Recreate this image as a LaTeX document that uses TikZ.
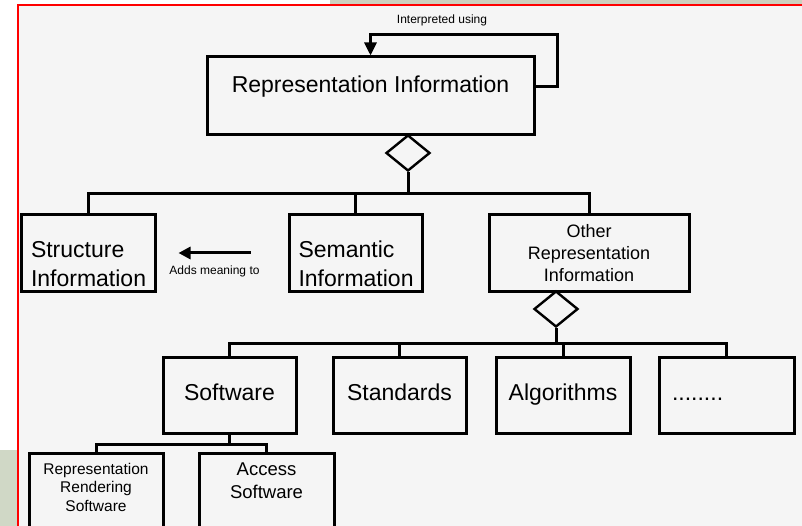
\documentclass[tikz,border=0pt]{standalone}
\usepackage{fontspec}
\setmainfont{Liberation Sans}
\usepackage{xcolor}
\usetikzlibrary{shapes.geometric, arrows.meta, positioning, calc}

\definecolor{canvas}{HTML}{F5F5F5}
\definecolor{sage}{HTML}{D0D8C6}
\definecolor{strip}{HTML}{CDD0BE}
\newcommand{\sizeL}{\fontsize{23}{29}\selectfont}
\newcommand{\sizeM}{\fontsize{18}{22}\selectfont}
\newcommand{\sizeS}{\fontsize{15.5}{18.5}\selectfont}
\newcommand{\sizeXS}{\fontsize{12}{14}\selectfont}

\begin{document}
\begin{tikzpicture}[
    x=1pt, y=-1pt,
    font=\sizeL,
    >={Triangle[length=13pt,width=12pt]},
    % Node styles
    infobox/.style={draw, line width=3pt, fill=canvas, inner sep=0pt, minimum width=133pt, minimum height=76pt},
    oneline/.style={text height=16pt, text depth=5pt},
    hubshape/.style={draw, diamond, line width=2.4pt, fill=canvas, inner sep=0pt, minimum width=44pt, minimum height=36pt},
    note/.style={font=\sizeXS, inner sep=1pt},
    link/.style={line width=3pt},
    arrow/.style={->, line width=3pt}
]

% ========== Background ==========
\clip (0,0) rectangle (802,526);
\fill[white] (0,0) rectangle (802,526);
\fill[strip] (330,0) rectangle (802,6);
\fill[sage] (0,450) rectangle (18,526);
\fill[canvas] (18,6) rectangle (802,526);
\draw[red, line width=2pt] (18,527) -- (18,5.5) -- (803,5.5);

% ========== Level 1 ==========
\node[infobox, minimum width=327pt, minimum height=78pt, text height=16pt, text depth=22pt] (repinfo) at (370.5,96) {Representation Information};
\coordinate (loopcorner) at (557,35);
\node[note] (interp) at (442,20) {Interpreted using};

\node[hubshape] (hubtop) at (408,153) {};

% ========== Level 2 ==========
\node[infobox, minimum width=134pt, text width=114pt, align=left, text depth=7pt] (structinfo) at (88,253) {Structure\\Information};
\node[infobox, text width=114pt, align=left, text depth=7pt] (seminfo) at (355.5,253) {Semantic\\Information};
\node[infobox, minimum width=200pt, align=center, font=\sizeM] (otherinfo) at (589,253) {Other\\Representation\\Information};

\node[hubshape] (hubother) at (556,309) {};

% ========== Level 3 ==========
\node[infobox, oneline] (software) at (229.5,395) {Software};
\node[infobox, oneline] (standards) at (399.5,395) {Standards};
\node[infobox, oneline, minimum width=134pt] (algorithms) at (563,395) {Algorithms};
\node[infobox, oneline, minimum width=135pt, text width=109pt, align=left] (more) at (726.5,395) {........};

% ========== Level 4 ==========
\node[infobox, minimum width=134pt, minimum height=92pt, align=center, font=\sizeS, text depth=24pt] (rendersw) at (96,499) {Representation\\Rendering\\Software};
\node[infobox, minimum width=135pt, minimum height=92pt, align=center, font=\fontsize{18.5}{23}\selectfont, text depth=37pt] (accesssw) at (266.5,499) {Access\\Software};

% ========== Connectors ==========
% Self reference
\draw[arrow] ([yshift=9pt]repinfo.east) -| (loopcorner) -| (repinfo.north);

% Level 1 to Level 2
\draw[link] (hubtop.south) -- ++(0,21) -| (structinfo.north);
\draw[link] (hubtop.south) -- ++(0,21) -| (seminfo.north);
\draw[link] (hubtop.south) -- ++(0,21) -| (otherinfo.north);

% Semantic to Structure
\draw[arrow, >={Triangle[length=12pt,width=12pt]}] ([xshift=-37pt]seminfo.west) -- node[below=10pt, note] {Adds meaning to} ([xshift=22pt]structinfo.east);

% Level 2 to Level 3
\draw[link] (hubother.south) -- ++(0,15) -| (software.north);
\draw[link] (hubother.south) -- ++(0,15) -| (standards.north);
\draw[link] (hubother.south) -- ++(0,15) -| (algorithms.north);
\draw[link] (hubother.south) -- ++(0,15) -| (more.north);

% Level 3 to Level 4
\draw[link] (software.south) -- ++(0,10) -| (rendersw.north);
\draw[link] (software.south) -- ++(0,10) -| (accesssw.north);

\end{tikzpicture}
\end{document}
